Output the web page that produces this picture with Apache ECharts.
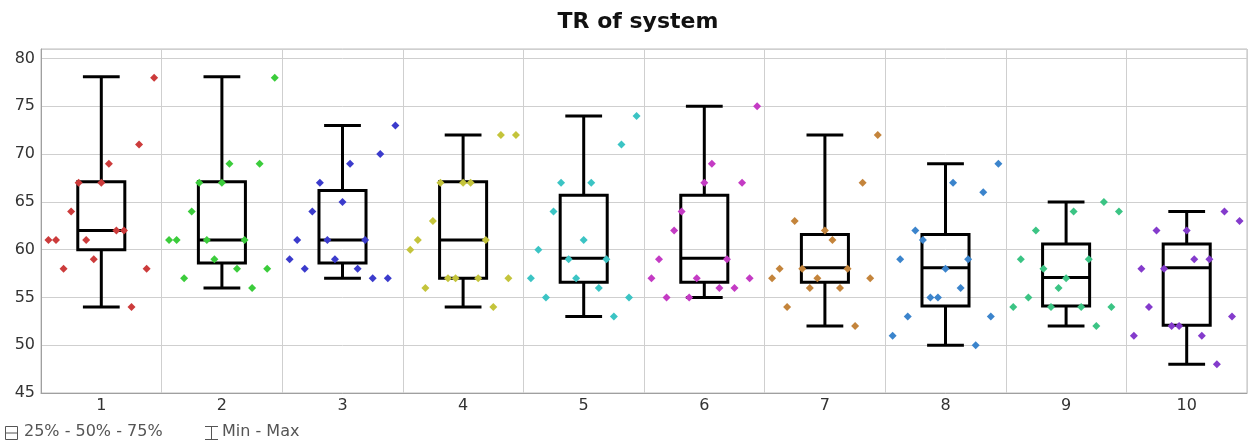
<!DOCTYPE html>
<html>
<head>
<meta charset="utf-8">
<script src="https://cdn.jsdelivr.net/npm/echarts@6/dist/echarts.min.js"></script>
<style>
  html, body { margin: 0; padding: 0; background: #fff; }
  #chart { width: 1252px; height: 446px; }
</style>
</head>
<body>
<div id="chart"></div>
<script>
const categories = ['1', '2', '3', '4', '5', '6', '7', '8', '9', '10'];

// box statistics per category
const boxMin    = [54, 56, 57, 54, 53, 55, 52, 50, 52, 48];
const boxQ1     = [60, 58.6, 58.6, 57, 56.6, 56.6, 56.6, 54.1, 54.1, 52.1];
const boxMedian = [62, 61, 61, 61, 59.1, 59.1, 58.1, 58.1, 57.1, 58.1];
const boxQ3     = [67.1, 67.1, 66.2, 67.1, 65.7, 65.7, 61.6, 61.6, 60.6, 60.6];
const boxMax    = [78.1, 78.1, 73, 72, 74, 75, 72, 69, 65, 64];

// individual samples per category, in drawing order (left to right)
const samples1  = [61, 61, 58, 64, 67, 61, 59, 67, 69, 62, 62, 54, 71, 58, 78];
const samples2  = [61, 61, 57, 64, 67, 61, 59, 67, 69, 58, 61, 56, 69, 58, 78];
const samples3  = [59, 61, 58, 64, 67, 61, 59, 65, 69, 58, 61, 57, 70, 57, 73];
const samples4  = [60, 61, 56, 63, 67, 57, 57, 67, 67, 57, 61, 54, 72, 57, 72];
const samples5  = [57, 60, 55, 64, 67, 59, 57, 61, 67, 56, 59, 53, 71, 55, 74];
const samples6  = [57, 59, 55, 62, 64, 55, 57, 67, 69, 56, 59, 56, 67, 57, 75];
const samples7  = [57, 58, 54, 63, 58, 56, 57, 62, 61, 56, 58, 52, 67, 57, 72];
const samples8  = [51, 59, 53, 62, 61, 55, 55, 58, 67, 56, 59, 50, 66, 53, 69];
const samples9  = [54, 59, 55, 62, 58, 54, 56, 57, 64, 54, 59, 52, 65, 54, 64];
const samples10 = [51, 58, 54, 62, 58, 52, 52, 62, 59, 51, 59, 48, 64, 53, 63];
const allSamples = [samples1, samples2, samples3, samples4, samples5,
                    samples6, samples7, samples8, samples9, samples10];

const pointColors = ['#cc3b3b', '#3bcc3b', '#3b3bcc', '#c4c43b', '#3bc4c4',
                     '#c43bc4', '#c4843b', '#3b84cc', '#3bc484', '#843bcc'];

const yMin = 45, yMax = 81, yInterval = 5;

const chart = echarts.init(document.getElementById('chart'), null, { renderer: 'canvas' });

const boxData = categories.map((c, i) => [i, boxMin[i], boxQ1[i], boxMedian[i], boxQ3[i], boxMax[i]]);

// samples spread evenly across the category band, by sample index
const spread = 0.0626;
const scatterSeries = allSamples.map((arr, i) => ({
  type: 'scatter',
  xAxisIndex: 1,
  symbol: 'diamond',
  symbolSize: 8,
  z: 5,
  itemStyle: { color: pointColors[i], opacity: 1 },
  emphasis: { disabled: true },
  data: arr.map((v, k) => [i + 1 + (k - (arr.length - 1) / 2) * spread, v])
}));

const lineStyle = { stroke: '#000', lineWidth: 3, fill: null };

const option = {
  animation: false,
  backgroundColor: '#fff',
  title: {
    text: 'TR of system',
    left: 633,
    textAlign: 'center',
    top: 6,
    textStyle: { fontFamily: 'DejaVu Sans', fontSize: 22, fontWeight: 'bold', color: '#111' }
  },
  grid: {
    left: 41, right: 5, top: 49, bottom: 53,
    show: true, borderColor: '#bdbdbd', borderWidth: 1
  },
  xAxis: [{
    type: 'category',
    data: categories,
    boundaryGap: true,
    axisLine: { lineStyle: { color: '#a0a0a0' } },
    axisTick: { show: false },
    splitLine: { show: true, lineStyle: { color: '#cfcfcf', width: 1 } },
    axisLabel: { fontFamily: 'DejaVu Sans', fontSize: 16, color: '#333', margin: 5 }
  }, {
    type: 'value',
    min: 0.5, max: 10.5,
    show: false
  }],
  yAxis: {
    type: 'value',
    min: yMin, max: yMax, interval: yInterval,
    axisLine: { show: true, lineStyle: { color: '#a0a0a0' } },
    axisTick: { show: false },
    splitLine: { show: true, lineStyle: { color: '#cfcfcf', width: 1 } },
    axisLabel: {
      fontFamily: 'DejaVu Sans', fontSize: 16, color: '#333', margin: 6,
      formatter: v => (v === yMax ? '' : String(v))
    }
  },
  series: [{
    type: 'custom',
    xAxisIndex: 0,
    z: 3,
    data: boxData,
    renderItem: function (params, api) {
      const idx = api.value(0);
      const pMin = api.coord([idx, api.value(1)]);
      const pQ1 = api.coord([idx, api.value(2)]);
      const pMed = api.coord([idx, api.value(3)]);
      const pQ3 = api.coord([idx, api.value(4)]);
      const pMax = api.coord([idx, api.value(5)]);
      const band = api.size([1, 0])[0];
      const bw = band * 0.39 / 2;
      const cw = band * 0.305 / 2;
      const x = pMed[0];
      return {
        type: 'group',
        children: [
          { type: 'line', shape: { x1: x, y1: pMax[1], x2: x, y2: pQ3[1] }, style: lineStyle },
          { type: 'line', shape: { x1: x, y1: pQ1[1], x2: x, y2: pMin[1] }, style: lineStyle },
          { type: 'line', shape: { x1: x - cw, y1: pMax[1], x2: x + cw, y2: pMax[1] }, style: lineStyle },
          { type: 'line', shape: { x1: x - cw, y1: pMin[1], x2: x + cw, y2: pMin[1] }, style: lineStyle },
          { type: 'rect', shape: { x: x - bw, y: pQ3[1], width: 2 * bw, height: pQ1[1] - pQ3[1] }, style: lineStyle },
          { type: 'line', shape: { x1: x - bw, y1: pMed[1], x2: x + bw, y2: pMed[1] }, style: lineStyle }
        ]
      };
    }
  }].concat(scatterSeries),
  graphic: [
    { type: 'rect', shape: { x: 5.5, y: 426.5, width: 12, height: 13 }, style: { stroke: '#555', fill: null, lineWidth: 1 } },
    { type: 'line', shape: { x1: 5.5, y1: 433, x2: 17.5, y2: 433 }, style: { stroke: '#555', lineWidth: 1 } },
    { type: 'text', left: 24, top: 424, style: { text: '25% - 50% - 75%', fontFamily: 'DejaVu Sans', fontSize: 16, fill: '#555' } },
    { type: 'line', shape: { x1: 211.5, y1: 426, x2: 211.5, y2: 440 }, style: { stroke: '#555', lineWidth: 1 } },
    { type: 'line', shape: { x1: 205, y1: 426.5, x2: 218, y2: 426.5 }, style: { stroke: '#555', lineWidth: 1 } },
    { type: 'line', shape: { x1: 205, y1: 439.5, x2: 218, y2: 439.5 }, style: { stroke: '#555', lineWidth: 1 } },
    { type: 'text', left: 222, top: 424, style: { text: 'Min - Max', fontFamily: 'DejaVu Sans', fontSize: 16, fill: '#555' } }
  ]
};

chart.setOption(option);
</script>
</body>
</html>
